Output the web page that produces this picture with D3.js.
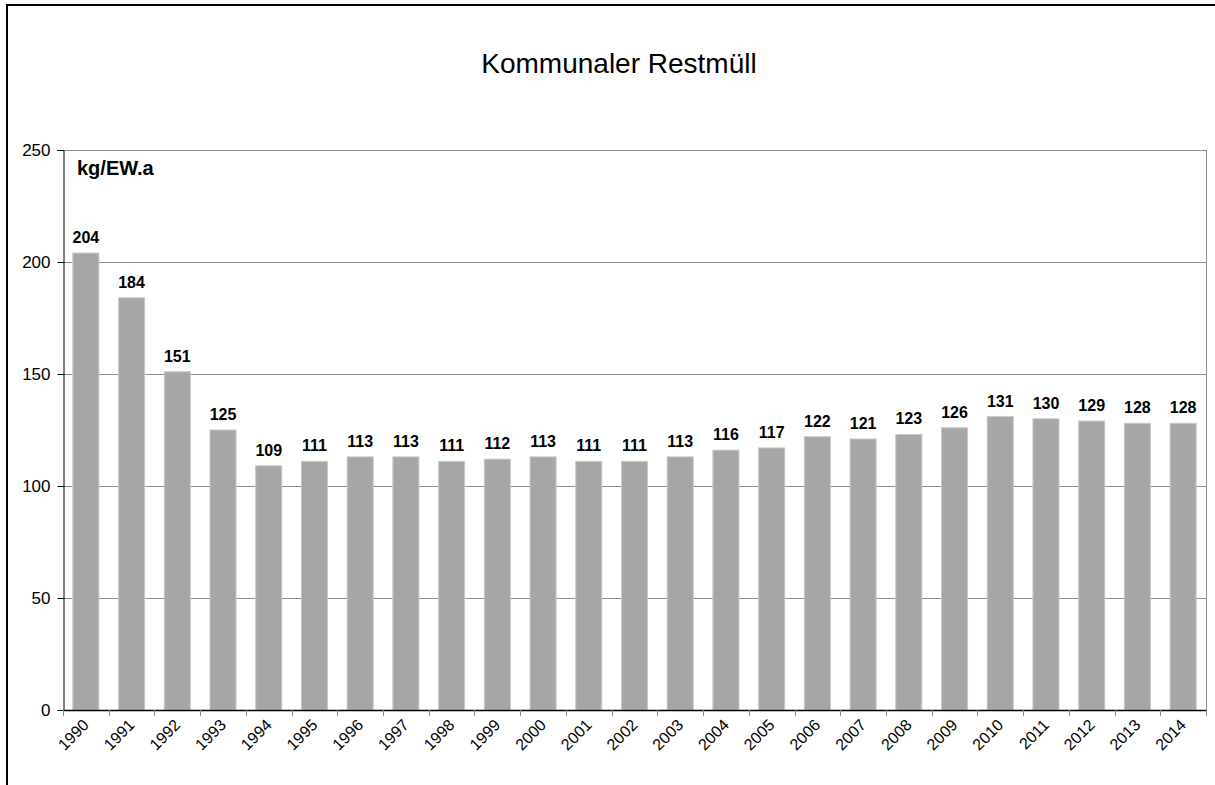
<!DOCTYPE html>
<html>
<head>
<meta charset="utf-8">
<script src="https://cdn.jsdelivr.net/npm/d3@7"></script>
<style>
  html, body { margin: 0; padding: 0; background: #fff; }
  svg { display: block; font-family: Arial, "Liberation Sans", sans-serif; }
</style>
</head>
<body>
<div id="chart"></div>
<script>
const years = ["1990", "1991", "1992", "1993", "1994", "1995", "1996", "1997", "1998", "1999",
  "2000", "2001", "2002", "2003", "2004", "2005", "2006", "2007", "2008", "2009",
  "2010", "2011", "2012", "2013", "2014"];
const values = [204, 184, 151, 125, 109, 111, 113, 113, 111, 112,
  113, 111, 111, 113, 116, 117, 122, 121, 123, 126,
  131, 130, 129, 128, 128];
const yTicks = [0, 50, 100, 150, 200, 250];
const title = "Kommunaler Restmüll";
const unit = "kg/EW.a";

const width = 1215, height = 785;
const plot = { left: 63, right: 1206, top: 150, bottom: 710 };

const svg = d3.select("#chart").append("svg")
  .attr("width", width)
  .attr("height", height);

// outer chart frame (continues past the window on right and bottom)
svg.append("rect")
  .attr("x", 7).attr("y", 5)
  .attr("width", width + 20).attr("height", height + 20)
  .attr("fill", "#fff")
  .attr("stroke", "#000")
  .attr("stroke-width", 2);

const x = d3.scaleBand()
  .domain(years)
  .range([plot.left, plot.right])
  .paddingInner(0.43)
  .paddingOuter(0.215);

const y = d3.scaleLinear()
  .domain([0, 250])
  .range([plot.bottom, plot.top]);

// gridlines
svg.append("g")
  .selectAll("line")
  .data(yTicks.filter(d => d > 0))
  .join("line")
  .attr("x1", plot.left).attr("x2", plot.right)
  .attr("y1", d => y(d) + 0.5).attr("y2", d => y(d) + 0.5)
  .attr("stroke", "#8c8c8c")
  .attr("stroke-width", 1);

// right frame of plot area
svg.append("line")
  .attr("x1", plot.right + 0.5).attr("x2", plot.right + 0.5)
  .attr("y1", plot.top).attr("y2", plot.bottom)
  .attr("stroke", "#8c8c8c");

// bars
svg.append("g")
  .selectAll("rect")
  .data(values)
  .join("rect")
  .attr("x", (d, i) => x(years[i]))
  .attr("y", d => y(d))
  .attr("width", x.bandwidth())
  .attr("height", d => y(0) - y(d))
  .attr("fill", "#a6a6a6")
  .attr("stroke", "#c8c8c8")
  .attr("stroke-width", 1);

// value labels
svg.append("g")
  .selectAll("text")
  .data(values)
  .join("text")
  .attr("x", (d, i) => x(years[i]) + x.bandwidth() / 2)
  .attr("y", d => y(d) - 10)
  .attr("text-anchor", "middle")
  .attr("font-size", 16)
  .attr("font-weight", "bold")
  .text(d => d);

// y axis
const yAxis = svg.append("g")
  .attr("transform", `translate(${plot.left + 0.5},0)`)
  .call(d3.axisLeft(y).tickValues(yTicks).tickSize(6).tickPadding(7));
yAxis.select(".domain").attr("stroke", "#000");
yAxis.selectAll(".tick line").attr("stroke", "#000");
yAxis.selectAll(".tick text")
  .attr("font-size", 17)
  .attr("font-family", "Arial, 'Liberation Sans', sans-serif")
  .attr("fill", "#000");

// x axis line + ticks at category boundaries
svg.append("line")
  .attr("x1", plot.left).attr("x2", plot.right + 1)
  .attr("y1", plot.bottom + 0.5).attr("y2", plot.bottom + 0.5)
  .attr("stroke", "#000")
  .attr("stroke-width", 1.5);

svg.append("g")
  .selectAll("line")
  .data(years.concat(["end"]))
  .join("line")
  .attr("x1", (d, i) => Math.round(plot.left + i * x.step()) + 0.5)
  .attr("x2", (d, i) => Math.round(plot.left + i * x.step()) + 0.5)
  .attr("y1", plot.bottom)
  .attr("y2", plot.bottom + 6)
  .attr("stroke", "#8c8c8c");

svg.append("g")
  .selectAll("text")
  .data(years)
  .join("text")
  .attr("transform", d => `translate(${x(d) + x.bandwidth() / 2 + 4},${plot.bottom + 16}) rotate(-45)`)
  .attr("text-anchor", "end")
  .attr("font-size", 16)
  .text(d => d);

// title and unit
svg.append("text")
  .attr("x", 619).attr("y", 73)
  .attr("text-anchor", "middle")
  .attr("font-size", 28)
  .text(title);

svg.append("text")
  .attr("x", 77).attr("y", 175)
  .attr("font-size", 20)
  .attr("font-weight", "bold")
  .text(unit);
</script>
</body>
</html>
